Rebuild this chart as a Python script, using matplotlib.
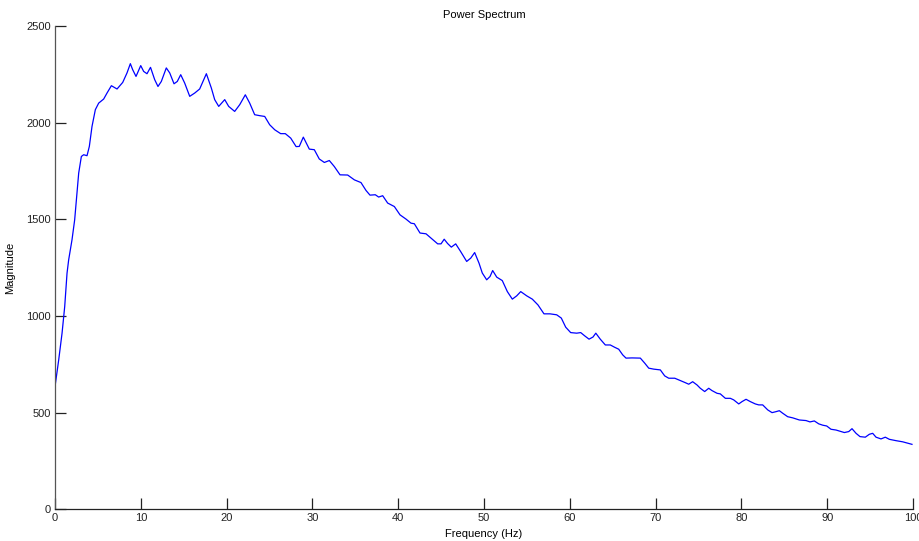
import matplotlib
matplotlib.use("Agg")
import matplotlib.pyplot as plt

# Frequency (Hz) and magnitude samples of the spectrum
freq = [0.0, 0.43, 0.82, 1.13, 1.40, 1.59, 1.98, 2.29, 2.56, 2.76, 3.07, 3.34, 3.73,
        4.00, 4.31, 4.70, 5.09, 5.67, 6.06, 6.57, 7.23, 7.89, 8.39, 8.78, 9.05, 9.44,
        9.99, 10.33, 10.72, 11.13, 11.62, 12.00, 12.39, 12.97, 13.37, 13.87, 14.25,
        14.65, 15.11, 15.70, 16.28, 16.86, 17.64, 18.22, 18.61, 19.08, 19.78, 20.24,
        20.94, 21.53, 22.18, 22.69, 23.27, 23.86, 24.44, 25.02, 25.61, 26.30, 26.84,
        27.47, 28.10, 28.47, 28.94, 29.64, 30.22, 30.80, 31.39, 31.97, 32.55, 33.22,
        34.11, 34.89, 35.66, 36.25, 36.71, 37.33, 37.72, 38.19, 38.77, 39.55, 40.21,
        40.91, 41.49, 41.88, 42.54, 43.24, 43.82, 44.60, 44.99, 45.36, 45.75, 46.19,
        46.70, 47.28, 47.98, 48.45, 48.91, 49.42, 49.80, 50.31, 50.70, 51.01, 51.48,
        52.13, 52.72, 53.30, 53.81, 54.28, 54.98, 55.63, 56.29, 56.99, 57.69, 58.47,
        59.01, 59.52, 60.10, 60.80, 61.27, 61.74, 62.24, 62.70, 63.03, 63.55, 64.14,
        64.72, 65.23, 65.70, 66.16, 66.55, 67.25, 68.22, 68.73, 69.20, 69.78, 70.55,
        71.06, 71.53, 72.23, 72.88, 73.46, 73.86, 74.32, 74.83, 75.21, 75.72, 76.19,
        76.57, 77.16, 77.54, 78.13, 78.71, 79.10, 79.69, 80.07, 80.54, 81.04, 81.62,
        82.02, 82.48, 83.07, 83.57, 84.03, 84.42, 84.81, 85.39, 85.98, 86.75, 87.53,
        87.99, 88.50, 89.01, 89.48, 89.94, 90.44, 91.03, 91.61, 92.00, 92.51, 92.89,
        93.36, 93.82, 94.44, 94.91, 95.30, 95.69, 96.27, 96.77, 97.24, 98.02, 98.80,
        99.38, 99.88]

magnitude = [635, 773, 911, 1049, 1221, 1290, 1394, 1497, 1636, 1739, 1825, 1834, 1829,
             1877, 1980, 2067, 2101, 2122, 2153, 2191, 2174, 2208, 2257, 2305, 2274, 2239,
             2295, 2265, 2253, 2286, 2222, 2187, 2213, 2283, 2257, 2201, 2213,
             2248, 2205, 2136, 2153, 2174, 2253, 2179, 2119, 2084, 2119, 2084,
             2058, 2093, 2144, 2101, 2041, 2036, 2032, 1989, 1963, 1943, 1943,
             1920, 1876, 1877, 1925, 1863, 1860, 1812, 1794, 1804, 1773, 1730,
             1729, 1704, 1690, 1649, 1625, 1627, 1615, 1622, 1584, 1566, 1523,
             1501, 1480, 1477, 1429, 1425, 1403, 1373, 1373, 1397, 1375, 1356,
             1373, 1333, 1282, 1299, 1328, 1273, 1222, 1187, 1204, 1235, 1201,
             1183, 1126, 1087, 1104, 1126, 1104, 1087, 1057, 1011, 1011, 1006,
             989, 942, 914, 911, 914, 897, 880, 891, 911, 880, 850,
             850, 838, 828, 799, 782, 783, 782, 756, 730, 725, 721,
             690, 678, 678, 666, 655, 647, 660, 643, 626, 609, 626,
             614, 600, 597, 574, 574, 566, 545, 557, 569, 557, 545,
             540, 540, 514, 500, 505, 510, 497, 479, 473, 462, 459,
             452, 457, 442, 435, 431, 414, 410, 402, 397, 402, 417,
             393, 376, 373, 388, 393, 373, 364, 373, 362, 355, 349,
             342, 336]

x_ticks = [0, 10, 20, 30, 40, 50, 60, 70, 80, 90, 100]
y_ticks = [0, 500, 1000, 1500, 2000, 2500]

plt.rcParams['font.family'] = ['Liberation Sans', 'DejaVu Sans']

fig = plt.figure(figsize=(9.2, 5.41), dpi=100)
ax = fig.add_axes([0.0598, 0.0586, 0.9326, 0.8934])

ax.plot(freq, magnitude, color='#0000ff', linewidth=0.9)

ax.set_xlim(0, 100)
ax.set_ylim(0, 2500)
ax.set_xticks(x_ticks)
ax.set_yticks(y_ticks)

ax.spines['top'].set_visible(False)
ax.spines['right'].set_visible(False)
ax.spines['left'].set_color('#555555')
ax.spines['bottom'].set_color('#222222')
for s in ('left', 'bottom'):
    ax.spines[s].set_linewidth(0.9)

ax.tick_params(direction='in', length=8, width=0.9, labelsize=8,
               colors='#222222', pad=3)

ax.set_title('Power Spectrum', fontsize=8, pad=6)
ax.set_xlabel('Frequency (Hz)', fontsize=8, labelpad=4)
ax.set_ylabel('Magnitude', fontsize=8, labelpad=8)

fig.savefig('out.png', dpi=100)
